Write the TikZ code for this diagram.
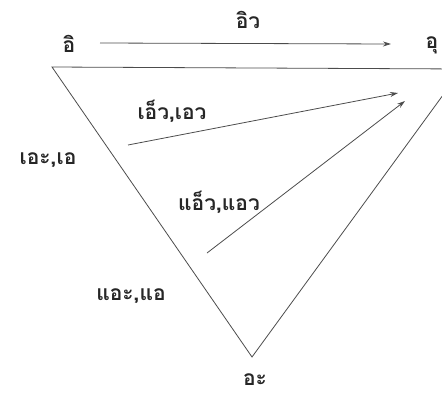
\documentclass[tikz,border=0pt]{standalone}
\usepackage{fontspec}
\newfontfamily\thaifont[Script=Thai]{Loma}
\usetikzlibrary{arrows.meta}
\begin{document}
\begin{tikzpicture}[x=1pt,y=-1pt,
  lbl/.style={font=\thaifont\bfseries\fontsize{21}{25}\selectfont, text=black!85, inner sep=0pt},
  edge/.style={draw=black!70, line width=0.8pt},
  arr/.style={draw=black!70, line width=0.8pt, -{Stealth[length=8pt,width=5pt]}}]
\useasboundingbox (0,0) rectangle (442,394);
\clip (0,0) rectangle (442,394);
% triangle vertices
\coordinate (tl) at (52,67);
\coordinate (tr) at (462,69);
\coordinate (bt) at (252,357);
\draw[edge] (tl) -- (tr) -- (bt) -- cycle;
% arrow end points
\coordinate (a1s) at (100,43);
\coordinate (a1e) at (391,44);
\coordinate (a2s) at (128,145);
\coordinate (a2e) at (398,93);
\coordinate (a3s) at (207,253);
\coordinate (a3e) at (405,101);
\draw[arr] (a1s) -- (a1e);
\draw[arr] (a2s) -- (a2e);
\draw[arr] (a3s) -- (a3e);
% labels
\node[lbl] (i) at (69,44) {อิ};
\node[lbl] (iw) at (248,20) {อิว};
\node[lbl] (u) at (432,45) {อุ};
\node[lbl] (ew) at (172,111) {เอ็ว,เอว};
\node[lbl] (e) at (48,160) {เอะ,เอ};
\node[lbl] (aew) at (219,202) {แอ็ว,แอว};
\node[lbl] (ae) at (131,296) {แอะ,แอ};
\node[lbl] (a) at (255,380) {อะ};
\end{tikzpicture}
\end{document}
